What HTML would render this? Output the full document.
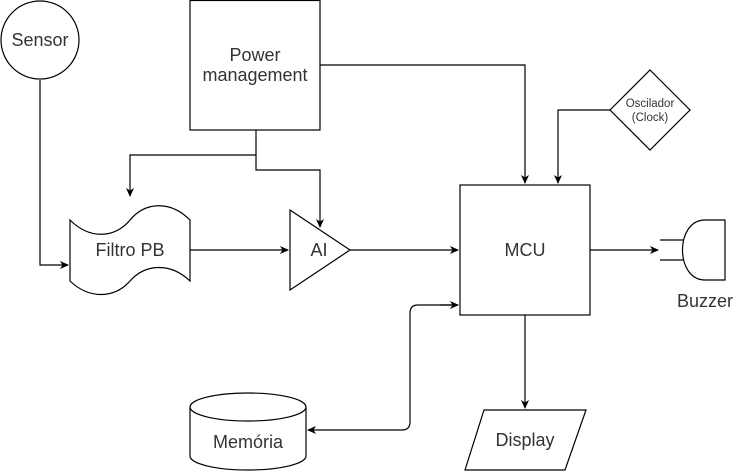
<!DOCTYPE html>
<html><head><meta charset="utf-8"><style>body{margin:0;background:#fff}svg{display:block}text{font-family:"Liberation Sans",Arial,sans-serif;fill:#333}</style></head><body>
<svg width="734" height="471" viewBox="0 0 734 471">
<defs><marker id="a" markerWidth="10" markerHeight="10" refX="8" refY="5" orient="auto" markerUnits="userSpaceOnUse"><path d="M0,1 L9,5 L0,9 L2.5,5 Z" fill="#000"/></marker></defs>
<g fill="#fff" stroke="#000" stroke-width="1.2">
<circle cx="40" cy="40" r="39"/>
<rect x="190" y="0.5" width="130" height="129.5"/>
<rect x="460" y="185" width="130" height="130"/>
<path d="M70,220 C90,240 115,238 130,220 C145,202 170,200 190,220 L190,281 C170,262 145,264 130,281 C115,298 90,300 70,281 Z"/>
<path d="M290,210 L350,250 L290,290 Z"/>
<path d="M650,70 L690,110 L650,150 L610,110 Z"/>
<path d="M725,220 L725,280 L705,280 C675,280 675,220 705,220 Z"/>
<path d="M660,240 L683,240 M660,260 L683,260" fill="none"/>
<path d="M484,410 L586,410 L565,470 L465,470 Z"/>
<path d="M190,407 A58,14 0 0 1 306,407 L306,456 A58,14 0 0 1 190,456 Z"/>
<path d="M190,407 A58,14 0 0 0 306,407" fill="none"/>
</g>
<g fill="none" stroke="#000" stroke-width="1.2">
<path d="M40,80 L40,265 L68,265" marker-end="url(#a)"/>
<path d="M256,130 L256,155 L130,155 L130,196" marker-end="url(#a)"/>
<path d="M256,155 L256,170 L320,170 L320,227" marker-end="url(#a)"/>
<path d="M320,65 L525,65 L525,183" marker-end="url(#a)"/>
<path d="M610,110 L558,110 L558,183" marker-end="url(#a)"/>
<path d="M190,250 L288,250" marker-end="url(#a)"/>
<path d="M350,250 L458,250" marker-end="url(#a)"/>
<path d="M590,250 L658,250" marker-end="url(#a)"/>
<path d="M525,315 L525,408" marker-end="url(#a)"/>
<path d="M458,305 L418,305 Q410,305 410,313 L410,422 Q410,430 402,430 L308,430" marker-end="url(#a)"/>
<path d="M440,305 L458,305" marker-end="url(#a)"/>
</g>
<g font-size="18" text-anchor="middle">
<text x="40" y="46">Sensor</text>
<text x="255" y="61">Power</text>
<text x="255" y="81">management</text>
<text x="130" y="256">Filtro PB</text>
<text x="319" y="256">AI</text>
<text x="525" y="256">MCU</text>
<text x="705" y="307">Buzzer</text>
<text x="525" y="446">Display</text>
<text x="248" y="448">Memória</text>
<text x="650" y="107" font-size="11.5">Oscilador</text>
<text x="650" y="121" font-size="11.5">(Clock)</text>
</g>
</svg>
</body></html>
